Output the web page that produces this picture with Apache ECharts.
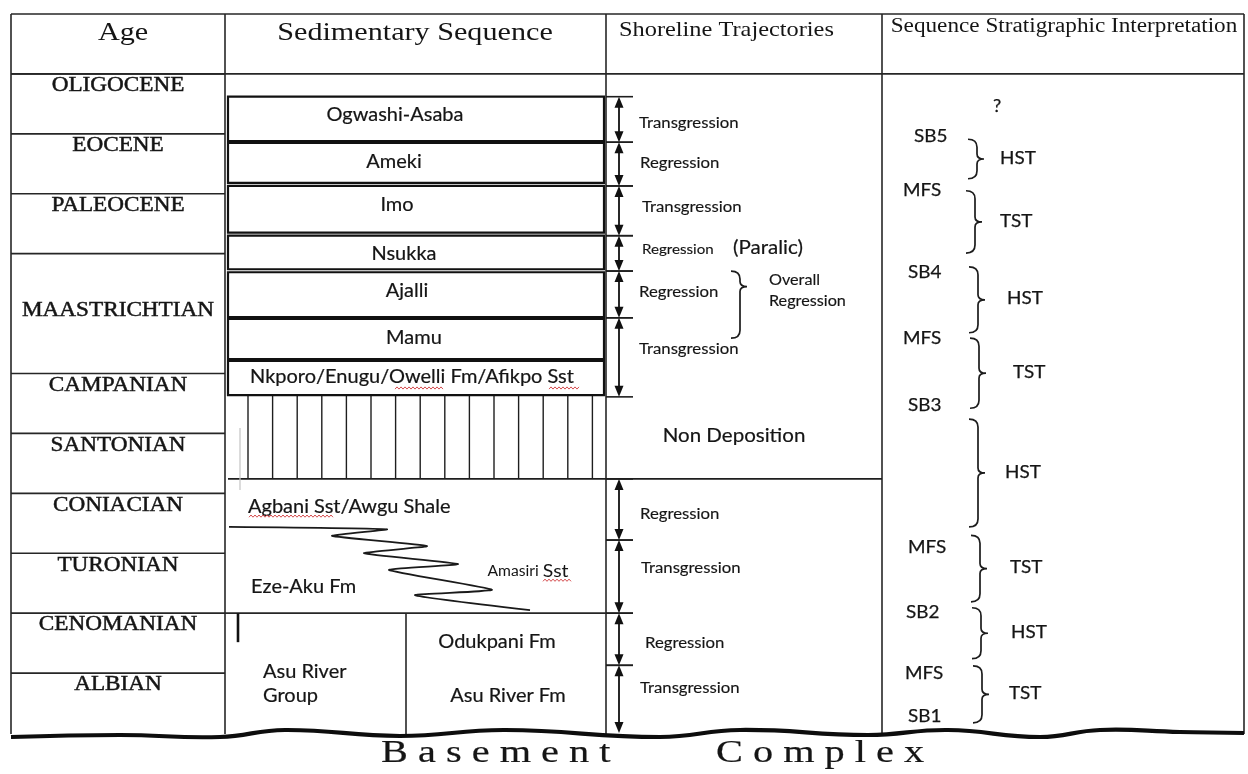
<!DOCTYPE html>
<html><head><meta charset="utf-8">
<script src="https://cdn.jsdelivr.net/npm/echarts@6/dist/echarts.min.js"></script>
<style>html,body{margin:0;padding:0;background:#fff}#main{width:1248px;height:774px}</style>
</head><body><div id="main"></div>
<script>
// ===================== DATA (stratigraphic levels; 0 = base of Albian, 1 unit = one stage row) =====================
const headerLabels = ['Age', 'Sedimentary Sequence', 'Shoreline Trajectories', 'Sequence Stratigraphic Interpretation'];

const ageNames = ['ALBIAN','CENOMANIAN','TURONIAN','CONIACIAN','SANTONIAN','CAMPANIAN','MAASTRICHTIAN','PALEOCENE','EOCENE','OLIGOCENE'];
const ageBase  = [0, 1, 2, 3, 4, 5, 6, 8, 9, 10];
const ageTop   = [1, 2, 3, 4, 5, 6, 8, 9, 10, 11];
const tableTop = 12;

const formationNames = ['Ogwashi-Asaba','Ameki','Imo','Nsukka','Ajalli','Mamu','Nkporo/Enugu/Owelli Fm/Afikpo Sst'];
const formationTop   = [10.62, 9.85, 9.13, 8.30, 7.69, 6.91, 6.21];
const formationBase  = [9.88, 9.18, 8.35, 7.74, 6.94, 6.24, 5.64];

const nonDeposition = {name: 'Non Deposition', top: 5.64, base: 4.24};

const lowerUnitNames = ['Agbani Sst/Awgu Shale', 'Eze-Aku Fm', 'Amasiri Sst', 'Odukpani Fm', 'Asu River Fm', 'Asu River\nGroup'];
const lowerUnitLevels = [3.77, 2.44, 2.70, 1.52, 0.62, 0.82];

// interfingering contact Agbani/Awgu - Eze-Aku - Amasiri (x in sketch units, level)
const interfingerX     = [229, 387, 332, 427, 364, 458, 389, 492, 415, 530];
const interfingerLevel = [3.44, 3.40, 3.29, 3.12, 3.00, 2.82, 2.72, 2.39, 2.30, 2.05];

const trajectoryNames = ['Transgression','Regression','Transgression','Regression','Regression','Transgression','Regression','Transgression','Regression','Transgression'];
const trajectoryTop   = [10.62, 9.86, 9.13, 8.30, 7.71, 6.93, 4.24, 3.22, 2.00, 1.13];
const trajectoryBase  = [9.86, 9.13, 8.30, 7.71, 6.93, 5.61, 3.22, 2.00, 1.13, 0];

const surfaceNames  = ['SB5','MFS','SB4','MFS','SB3','MFS','SB2','MFS','SB1'];
const surfaceLevels = [9.95, 9.06, 7.69, 6.59, 5.46, 3.10, 2.02, 0.99, 0.27];

const tractNames = ['HST','TST','HST','TST','HST','TST','HST','TST'];
const tractTop   = [9.91, 9.05, 7.78, 6.59, 5.24, 3.30, 2.09, 1.12];
const tractBase  = [9.25, 8.01, 6.68, 5.42, 3.44, 2.19, 1.24, 0.17];

const unknownTract = {name: '?', level: 10.45};
const paralic = {name: '(Paralic)', level: 8.10};
const overallRegression = {name: 'Overall\nRegression', top: 7.71, tip: 7.45, base: 6.59};
const basementLabel = ['Basement', 'Complex'];

// ===================== LAYOUT / STYLE =====================
const COL = {left: 11, age: 225, sed: 606, shore: 882, right: 1244};
const Y_MIN = -0.6843, Y_MAX = 12.2337;
const SERIF = '"Liberation Serif", "Times New Roman", serif';
const SANS = 'Lato, "Open Sans", sans-serif';
const INK = '#151515', LINE = '#262626';
const SX_SERIF = 1.16, SX_SANS = 1.08;

const formationLabelX  = [395, 394, 397, 404, 407, 414, 412];
const formationLabelDy = [-4, -1, -4, 2, -4, -1, -1];
const lowerUnitX = [345, 302, 528, 497, 508, 263];
const trajLabelDy = [4, -1, -4, -4, -2, -8, 4, -9, 4, -11];
const trajLabelX  = [639, 640, 642, 642, 639, 639, 640, 641, 645, 640];
const surfaceX = [914, 903, 908, 903, 908, 908, 906, 905, 908];
const tractSpineX = [977, 975, 978, 979, 978, 980, 981, 982];
const tractTextX  = [1000, 1000, 1007, 1013, 1005, 1010, 1011, 1009];

function T(x, y, text, size, family, opt) {
  opt = opt || {};
  const al = opt.align || 'center';
  const st = {text: text, x: 0, y: 0, fill: opt.fill || INK, fontSize: size, fontFamily: family,
      fontWeight: opt.weight || 'normal', align: al, verticalAlign: 'middle',
      textAlign: al, textVerticalAlign: 'middle', lineHeight: opt.lh, rich: opt.rich};
  if (opt.heavy) { st.stroke = opt.fill || INK; st.lineWidth = opt.heavy; }
  return {type: 'text', x: x, y: y, scaleX: opt.sx || (family === SERIF ? SX_SERIF : SX_SANS), style: st};
}
function L(x1, y1, x2, y2, w, c) {
  return {type: 'line', shape: {x1: x1, y1: y1, x2: x2, y2: y2}, style: {stroke: c || LINE, lineWidth: w || 1.5}};
}
function squiggle(x1, x2, y) {
  const pts = [];
  for (let x = x1, k = 0; x <= x2; x += 2, k++) pts.push([x, y + (k % 2 ? -1.1 : 1.1)]);
  return {type: 'polyline', shape: {points: pts}, style: {stroke: '#d0393b', lineWidth: 0.9, fill: null}};
}
function brace(xs, yT, yM, yB) {
  const d = 'M' + (xs - 9) + ' ' + yT + ' Q' + xs + ' ' + yT + ' ' + xs + ' ' + (yT + 8) +
    ' L' + xs + ' ' + (yM - 5) + ' Q' + xs + ' ' + yM + ' ' + (xs + 7) + ' ' + yM +
    ' Q' + xs + ' ' + yM + ' ' + xs + ' ' + (yM + 5) + ' L' + xs + ' ' + (yB - 8) +
    ' Q' + xs + ' ' + yB + ' ' + (xs - 9) + ' ' + yB;
  return {type: 'path', shape: {pathData: d}, style: {stroke: '#1c1c1c', lineWidth: 1.7, fill: null}};
}
function layer(name, data, render, z) {
  return {type: 'custom', name: name, coordinateSystem: 'cartesian2d', data: data, renderItem: render,
    clip: false, silent: true, animation: false, z: z || 2};
}

const series = [];

// ---- table frame ----
series.push(layer('frame', [[COL.left, tableTop]], function (p, api) {
  const c = (x, lv) => api.coord([x, lv]);
  const yTop = c(0, tableTop)[1], yHead = c(0, ageTop[ageTop.length - 1])[1], yBot = c(0, 0)[1] + 1;
  const ch = [L(COL.left, yTop, COL.right, yTop, 1.7), L(COL.left, yHead, COL.right, yHead, 1.7)];
  [COL.left, COL.age, COL.sed, COL.shore, COL.right].forEach(x => ch.push(L(x, yTop, x, yBot, 1.6)));
  // header text
  const hy = yTop + 19;
  ch.push(T(123, hy, headerLabels[0], 26, SERIF));
  ch.push(T(415, hy, headerLabels[1], 26, SERIF));
  ch.push(T(619, hy - 3, headerLabels[2], 21, SERIF, {align: 'left'}));
  ch.push(T(1064, hy - 6, headerLabels[3], 20, SERIF));
  // Cenomanian top across sed column and the Asu River divider
  const y2 = c(0, 2)[1];
  ch.push(L(COL.age, y2, COL.sed, y2, 1.6));
  ch.push(L(406, y2, 406, yBot, 1.6));
  ch.push(L(238, y2, 238, y2 + 29, 2.6, '#111'));
  return {type: 'group', children: ch};
}));

// ---- ages ----
series.push(layer('ages', ageNames.map((n, i) => [COL.age, ageBase[i]]), function (p, api) {
  const i = p.dataIndex;
  const yT = api.coord([0, ageTop[i]])[1], yB = api.coord([0, ageBase[i]])[1];
  const cx = (COL.left + COL.age) / 2;
  const ty = (ageTop[i] - ageBase[i]) > 1 ? (yT + yB) / 2 - 3 : yT + 12;
  return {type: 'group', children: [L(COL.left, yT, COL.age, yT, 1.6), T(cx, ty, ageNames[i], 20, SERIF, {heavy: 0.45})]};
}));

// ---- formations ----
series.push(layer('formations', formationNames.map((n, i) => [228, formationTop[i]]), function (p, api) {
  const i = p.dataIndex;
  const yT = api.coord([0, formationTop[i]])[1], yB = api.coord([0, formationBase[i]])[1];
  const ch = [
    {type: 'rect', shape: {x: 228, y: yT, width: 604 - 228, height: yB - yT}, style: {fill: '#fff', stroke: '#111', lineWidth: 2.2}},
    T(formationLabelX[i], (yT + yB) / 2 + formationLabelDy[i], formationNames[i], 18.5, SANS, {heavy: 0.2})
  ];
  if (i === formationNames.length - 1) {
    const ty = (yT + yB) / 2 + formationLabelDy[i] + 11;
    ch.push(squiggle(395, 443, ty));
    ch.push(squiggle(549, 579, ty));
  }
  return {type: 'group', children: ch};
}, 3));

// ---- non deposition hatch ----
series.push(layer('nondeposition', [[COL.sed, nonDeposition.top]], function (p, api) {
  const yT = api.coord([0, nonDeposition.top])[1], yB = api.coord([0, nonDeposition.base])[1];
  const ch = [];
  for (let k = 0; k < 15; k++) { const x = 248 + k * 24.6; ch.push(L(x, yT, x, yB, 1.4, '#1e1e1e')); }
  ch.push(L(228, yB, COL.shore, yB, 1.8, '#1e1e1e'));
  ch.push(L(240, yT + 33, 240, yB + 11, 1.2, '#c4c4c4'));
  ch.push(T(734, yT + 41, nonDeposition.name, 19, SANS, {heavy: 0.2}));
  return {type: 'group', children: ch};
}));

// ---- interfingering contact ----
series.push(layer('interfinger', interfingerX.map((x, i) => [x, interfingerLevel[i]]), function (p, api) {
  if (p.dataIndex !== 0) return null;
  const pts = interfingerX.map((x, i) => api.coord([x, interfingerLevel[i]]));
  return {type: 'polyline', shape: {points: pts, smooth: 0.15}, style: {stroke: '#1a1a1a', lineWidth: 1.8, fill: null}};
}));

// ---- lower unit labels ----
series.push(layer('lowerUnits', lowerUnitNames.map((n, i) => [lowerUnitX[i], lowerUnitLevels[i]]), function (p, api) {
  const i = p.dataIndex;
  const pt = api.coord([lowerUnitX[i], lowerUnitLevels[i]]);
  const ch = [];
  if (i === 0) {
    ch.push(T(248, pt[1], lowerUnitNames[i], 18.5, SANS, {align: 'left', heavy: 0.2}));
    ch.push(squiggle(249, 334, pt[1] + 9));
  } else if (i === 2) {
    ch.push(T(pt[0], pt[1], '{a|Amasiri} {b|Sst}', 15, SANS, {rich: {a: {fontSize: 14.5, fontFamily: SANS, fill: INK}, b: {fontSize: 18, fontFamily: SANS, fill: INK}}}));
    ch.push(squiggle(543, 571, pt[1] + 9));
  } else if (i === 5) {
    ch.push(T(pt[0], pt[1], lowerUnitNames[i], 18.5, SANS, {align: 'left', lh: 24, heavy: 0.2}));
  } else if (i === 1) {
    ch.push(T(251, pt[1], lowerUnitNames[i], 18.5, SANS, {align: 'left', heavy: 0.2}));
  } else {
    ch.push(T(pt[0], pt[1], lowerUnitNames[i], 18.5, SANS, {heavy: 0.2}));
  }
  return {type: 'group', children: ch};
}));

// ---- shoreline trajectories ----
series.push(layer('trajectories', trajectoryNames.map((n, i) => [619, trajectoryTop[i]]), function (p, api) {
  const i = p.dataIndex, ax = 619;
  const yT = api.coord([ax, trajectoryTop[i]])[1], yB = api.coord([ax, trajectoryBase[i]])[1];
  const ch = [
    L(ax, yT + 4, ax, yB - 4, 1.8, '#111'),
    {type: 'polygon', shape: {points: [[ax, yT], [ax - 4.5, yT + 11], [ax + 4.5, yT + 11]]}, style: {fill: '#111'}},
    {type: 'polygon', shape: {points: [[ax, yB], [ax - 4.5, yB - 11], [ax + 4.5, yB - 11]]}, style: {fill: '#111'}},
    L(COL.sed, yT, 633, yT, 1.6, '#1e1e1e'),
    T(trajLabelX[i], (yT + yB) / 2 + trajLabelDy[i], trajectoryNames[i], i === 3 ? 14 : 15.5, SANS, {align: 'left', heavy: 0.15})
  ];
  if (trajectoryBase[i] > 0) ch.push(L(COL.sed, yB, 633, yB, 1.6, '#1e1e1e'));
  return {type: 'group', children: ch};
}));

// ---- annotations in shoreline column ----
series.push(layer('shoreNotes', [[733, paralic.level], [740, overallRegression.top]], function (p, api) {
  if (p.dataIndex === 0) {
    const y = api.coord([0, paralic.level])[1];
    return T(733, y, paralic.name, 19, SANS, {align: 'left', heavy: 0.2});
  }
  const yT = api.coord([0, overallRegression.top])[1], yM = api.coord([0, overallRegression.tip])[1], yB = api.coord([0, overallRegression.base])[1];
  return {type: 'group', children: [
    brace(740, yT, yM, yB),
    T(769, yM + 4, overallRegression.name, 15, SANS, {align: 'left', lh: 21, heavy: 0.15})
  ]};
}));

// ---- sequence surfaces ----
series.push(layer('surfaces', surfaceNames.map((n, i) => [surfaceX[i], surfaceLevels[i]]), function (p, api) {
  const i = p.dataIndex;
  const pt = api.coord([surfaceX[i], surfaceLevels[i]]);
  return T(pt[0], pt[1], surfaceNames[i], 17.5, SANS, {align: 'left', heavy: 0.25});
}));

// ---- systems tracts ----
series.push(layer('tracts', tractNames.map((n, i) => [tractSpineX[i], tractTop[i]]), function (p, api) {
  const i = p.dataIndex;
  const yT = api.coord([0, tractTop[i]])[1], yB = api.coord([0, tractBase[i]])[1], yM = (yT + yB) / 2;
  return {type: 'group', children: [brace(tractSpineX[i], yT, yM, yB), T(tractTextX[i], yM - 1, tractNames[i], 17.5, SANS, {align: 'left', heavy: 0.25})]};
}));

series.push(layer('unknown', [[997, unknownTract.level]], function (p, api) {
  const pt = api.coord([997, unknownTract.level]);
  return T(pt[0], pt[1], unknownTract.name, 17, SANS, {heavy: 0.25});
}));

// ---- basement unconformity ----
const waveX  = [11, 120, 220, 285, 400, 505, 660, 740, 868, 948, 1040, 1100, 1180, 1244];
const waveDy = [4, 2, 4, -3, 3, -3, 4, -3, 2, -3, 4, -3, -1, 0];
series.push(layer('basement', [[620, 0]], function (p, api) {
  const y0 = api.coord([0, 0])[1];
  const pts = waveX.map((x, k) => [x, y0 + waveDy[k]]);
  return {type: 'group', children: [
    {type: 'polyline', shape: {points: pts, smooth: 0.45}, style: {stroke: '#0d0d0d', lineWidth: 4.2, fill: null}},
    T(381, y0 + 21, basementLabel[0].split('').join(' '), 31, SERIF, {align: 'left', sx: 1.3, heavy: 0.2}),
    T(716, y0 + 21, basementLabel[1].split('').join(' '), 31, SERIF, {align: 'left', sx: 1.3, heavy: 0.2})
  ]};
}, 4));

const chart = echarts.init(document.getElementById('main'), null, {renderer: 'canvas'});
chart.setOption({
  backgroundColor: '#ffffff',
  animation: false,
  grid: {left: 0, right: 0, top: 0, bottom: 0, containLabel: false},
  xAxis: {type: 'value', min: 0, max: 1248, show: false},
  yAxis: {type: 'value', min: Y_MIN, max: Y_MAX, show: false},
  series: series
});
</script></body></html>
